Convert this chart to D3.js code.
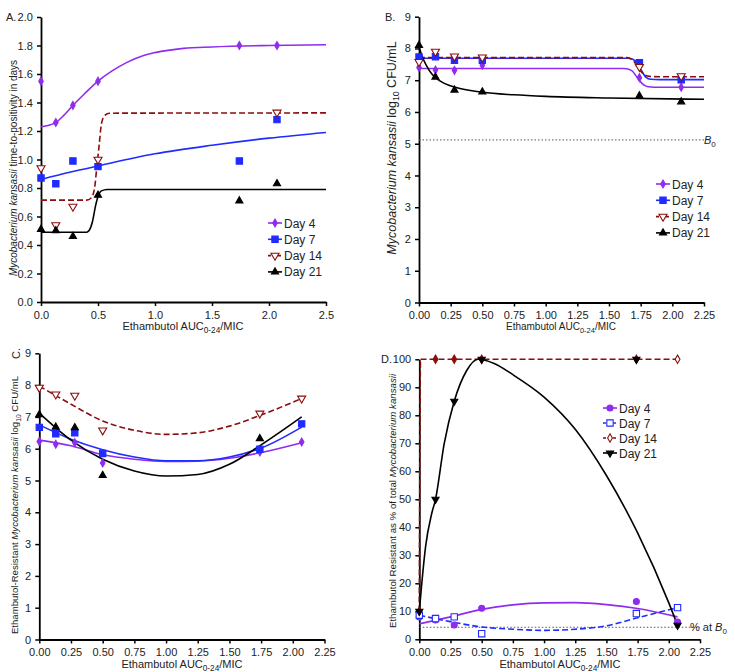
<!DOCTYPE html>
<html lang="en">
<head>
<meta charset="UTF-8">
<title>Ethambutol panels</title>
<script src="https://d3js.org/d3.v7.min.js"></script>
<style>
    body { margin: 0; background: #fff; }
    text { font-family: "Liberation Sans", Arial, sans-serif; fill: #222; }
</style>
</head>
<body>
<script>

// ---- data ----
const days = ['Day 4', 'Day 7', 'Day 14', 'Day 21'];
const xDoses = [0, 0.13, 0.28, 0.5, 1.74, 2.07];

// panel A: time-to-positivity (days)
const ttpDay4 = [1.55, 1.26, 1.38, 1.55, 1.80, 1.80];
const ttpDay7 = [0.87, 0.83, 0.99, 0.95, 0.99, 1.28];
const ttpDay14 = [0.94, 0.54, 0.67, 1.00, null, 1.33];
const ttpDay21 = [0.51, 0.50, 0.46, 0.75, 0.71, 0.83];
const ttpFit4 = [[0,1.23],[0.07,1.24],[0.13,1.26],[0.2,1.31],[0.28,1.38],[0.38,1.46],[0.5,1.55],[0.62,1.62],[0.75,1.68],[0.9,1.73],[1.0,1.75],[1.25,1.78],[1.5,1.79],[2.0,1.80],[2.5,1.805]];
const ttpFit7 = [[0,0.86],[0.25,0.91],[0.5,0.955],[1.0,1.04],[1.5,1.10],[2.0,1.15],[2.5,1.19]];
const ttpFit14 = [[0,0.715],[0.4,0.715],[0.44,0.73],[0.47,0.8],[0.49,0.95],[0.51,1.1],[0.53,1.25],[0.56,1.31],[0.6,1.325],[2.5,1.327]];
const ttpFit21 = [[0,0.49],[0.4,0.49],[0.42,0.50],[0.45,0.56],[0.48,0.68],[0.5,0.74],[0.53,0.78],[0.58,0.79],[2.5,0.79]];

// panel B: total log10 CFU/mL
const cfuDay4 = [7.40, 7.32, 7.31, 7.47, 7.08, 6.78];
const cfuDay7 = [7.73, 7.74, 7.63, 7.63, 7.55, 7.01];
const cfuDay14 = [7.58, 7.90, 7.75, 7.72, 7.42, 7.13];
const cfuDay21 = [8.10, 7.10, 6.69, 6.63, 6.51, 6.32];
const cfuFit4 = [[0,7.37],[1.62,7.37],[1.68,7.3],[1.72,7.1],[1.76,6.9],[1.8,6.8],[1.86,6.78],[2.25,6.78]];
const cfuFit7 = [[0,7.69],[1.66,7.69],[1.71,7.6],[1.75,7.35],[1.79,7.1],[1.83,7.03],[1.9,7.02],[2.25,7.02]];
const cfuFit14 = [[0,7.71],[1.64,7.71],[1.69,7.62],[1.73,7.4],[1.77,7.2],[1.82,7.12],[1.9,7.11],[2.25,7.11]];
const cfuFit21 = [[0,8.05],[0.03,7.7],[0.06,7.45],[0.1,7.2],[0.15,7.02],[0.2,6.9],[0.3,6.76],[0.5,6.62],[0.75,6.54],[1.0,6.49],[1.5,6.44],[2.25,6.40]];
const b0Cfu = 5.12;

// panel C: ethambutol-resistant log10 CFU/mL
const resDay4 = [6.23, 6.14, 6.19, 5.55, 5.90, 6.21];
const resDay7 = [6.67, 6.47, 6.50, 5.85, 5.98, 6.78];
const resDay14 = [7.92, 7.71, 7.67, 6.58, 7.11, 7.58];
const resDay21 = [7.07, 6.68, 6.66, 5.16, 6.32, null];
const resFit4 = [[0,6.27],[0.25,6.09],[0.5,5.81],[0.75,5.67],[1.0,5.60],[1.25,5.61],[1.5,5.70],[1.75,5.88],[2.07,6.19]];
const resFit7 = [[0,6.75],[0.25,6.3],[0.5,5.97],[0.75,5.74],[1.0,5.62],[1.25,5.62],[1.5,5.74],[1.75,6.02],[2.07,6.68]];
const resFit14 = [[0,7.97],[0.25,7.40],[0.5,6.87],[0.75,6.58],[1.0,6.45],[1.25,6.50],[1.5,6.71],[1.75,7.06],[2.07,7.58]];
const resFit21 = [[0,7.12],[0.25,6.27],[0.5,5.67],[0.75,5.30],[1.0,5.14],[1.25,5.19],[1.5,5.51],[1.75,6.12],[2.07,7.0]];

// panel D: resistant as % of total
const pctDay4 = [8.0, 6.9, 5.1, 11.1, 13.5, 6.2];
const pctDay7 = [8.6, 7.4, 8.0, 2.0, 9.2, 11.3];
const pctDay14 = [10, 100, 100, 100, 100, 100];
const pctDay21 = [10, 50, 85, 100, 100, 5];
const pctFit4 = [[0,5.5],[0.25,8.0],[0.5,10.7],[0.75,12.3],[1.0,13.0],[1.25,13.1],[1.5,12.4],[1.75,11.0],[2.07,8.0]];
const pctFit7 = [[0,8.6],[0.25,6.3],[0.5,4.4],[0.75,3.6],[1.0,3.2],[1.25,3.6],[1.5,4.8],[1.75,7.7],[2.07,11.3]];
const pctFit14 = [[0,10],[0.01,100],[2.07,100]];
const pctFit21 = [[0,10],[0.02,20],[0.05,33],[0.1,45],[0.13,50],[0.2,70],[0.28,85],[0.38,96],[0.47,100],[0.6,98.5],[0.75,94.5],[1.0,86.5],[1.25,75],[1.5,58.5],[1.75,38],[2.0,13],[2.07,5]];
const b0Pct = 4.3;

const ticksA_x = [0, 0.5, 1.0, 1.5, 2.0, 2.5];
const ticksA_y = [0, 0.2, 0.4, 0.6, 0.8, 1.0, 1.2, 1.4, 1.6, 1.8, 2.0];
const ticksQ_x = [0, 0.25, 0.5, 0.75, 1.0, 1.25, 1.5, 1.75, 2.0, 2.25];
const ticksLog_y = [0, 1, 2, 3, 4, 5, 6, 7, 8, 9];
const ticksPct_y = [0, 10, 20, 30, 40, 50, 60, 70, 80, 90, 100];

const purple = '#8f2cf0', blue = '#1f2bff', red = '#8b0d0d', black = '#000';

const svg = d3.select('body').append('svg')
    .attr('width', 735).attr('height', 672);

function drawPanel(p) {
    const x = d3.scaleLinear().domain(p.xDomain).range(p.xRange);
    const y = d3.scaleLinear().domain(p.yDomain).range(p.yRange);
    const g = svg.append('g');

    g.append('g')
        .attr('transform', `translate(0,${p.yRange[0]})`)
        .call(d3.axisBottom(x).tickValues(p.xTicks).tickFormat(d3.format(p.xFmt)).tickSize(4).tickSizeOuter(0))
        .call(a => a.selectAll('text').attr('font-size', 11).attr('dy', '0.9em'));
    g.append('g')
        .attr('transform', `translate(${p.xRange[0]},0)`)
        .call(d3.axisLeft(y).tickValues(p.yTicks).tickFormat(d3.format(p.yFmt)).tickSize(4).tickSizeOuter(0))
        .call(a => a.selectAll('text').attr('font-size', 11).attr('dx', '-0.1em'));
    g.selectAll('.domain').attr('stroke-width', 1.8);
    g.selectAll('.tick line').attr('stroke-width', 1.5);

    // reference line
    if (p.refLine != null) {
        g.append('line')
            .attr('x1', x(0)).attr('x2', x(p.xDomain[1]))
            .attr('y1', y(p.refLine)).attr('y2', y(p.refLine))
            .attr('stroke', '#555').attr('stroke-width', 1).attr('stroke-dasharray', '1.5,2');
        const t = g.append('text').attr('x', p.refLabelX).attr('y', y(p.refLine) + 4).attr('font-size', 11);
        if (p.refPrefix) t.append('tspan').text(p.refPrefix);
        t.append('tspan').attr('font-style', 'italic').text('B');
        t.append('tspan').attr('font-size', 8).attr('dy', 3).text('0');
    }

    const line = d3.line().x(d => x(d[0])).y(d => y(d[1])).curve(d3.curveMonotoneX);
    p.series.forEach(s => {
        g.append('path').datum(s.fit)
            .attr('d', line)
            .attr('fill', 'none')
            .attr('stroke', s.color)
            .attr('stroke-width', 1.6)
            .attr('stroke-dasharray', s.dashed ? '6,3' : null);
    });
    p.series.forEach(s => {
        const pts = xDoses.map((d, i) => [d, s.values[i], i]).filter(d => d[1] != null);
        g.selectAll(null).data(pts).enter()
            .append('path')
            .attr('transform', d => `translate(${x(d[0])},${y(d[1])})`)
            .attr('d', d => symbolPath(s))
            .attr('fill', d => (s.open && !(s.openOnly != null && s.openOnly !== d[2])) ? '#fff' : s.color)
            .attr('stroke', s.color)
            .attr('stroke-width', 1.1);
    });

    // legend
    if (p.legend) {
        p.series.forEach((s, i) => {
            const ly = p.legend[1] + i * p.legend[2];
            const lx = p.legend[0];
            g.append('line')
                .attr('x1', lx - 7).attr('x2', lx + 7).attr('y1', ly).attr('y2', ly)
                .attr('stroke', s.color).attr('stroke-width', 1.6)
                .attr('stroke-dasharray', s.dashed ? '3,2' : null);
            g.append('path')
                .attr('transform', `translate(${lx},${ly})`)
                .attr('d', symbolPath(s))
                .attr('fill', s.open && s.openOnly == null ? '#fff' : (s.openOnly != null ? '#fff' : s.color))
                .attr('stroke', s.color).attr('stroke-width', 1.1);
            g.append('text').attr('x', lx + 9).attr('y', ly + 4.5)
                .attr('font-size', 12).text(days[i]);
        });
    }

    // panel letter
    const pl = g.append('text').attr('font-size', 11).text(p.letter);
    if (p.letterRot) pl.attr('transform', `translate(${p.letterPos[0]},${p.letterPos[1]}) rotate(-90)`);
    else pl.attr('x', p.letterPos[0]).attr('y', p.letterPos[1]);

    // x label
    const xl = g.append('text').attr('x', p.xLabelPos[0]).attr('y', p.xLabelPos[1])
        .attr('text-anchor', 'middle').attr('font-size', p.xLabelSize);
    xl.append('tspan').text('Ethambutol AUC');
    xl.append('tspan').attr('font-size', p.xLabelSize * 0.75).attr('dy', 3).text('0-24');
    xl.append('tspan').attr('dy', -3).text('/MIC');

    // y label
    const yl = g.append('text')
        .attr('transform', `translate(${p.yLabelPos[0]},${p.yLabelPos[1]}) rotate(-90)`)
        .attr('text-anchor', 'middle').attr('font-size', p.yLabelSize);
    p.yLabel.forEach(part => {
        const t = yl.append('tspan').text(part.t);
        if (part.i) t.attr('font-style', 'italic');
        if (part.sub) t.attr('font-size', p.yLabelSize * 0.7).attr('dy', 3);
        if (part.up) t.attr('dy', -3);
    });
}

function symbolPath(s) {
    const type = { diamond: d3.symbolDiamond, square: d3.symbolSquare, circle: d3.symbolCircle,
        triUp: d3.symbolTriangle, triDown: d3.symbolTriangle }[s.shape];
    const p = d3.symbol().type(type).size(s.size)();
    if (s.shape === 'triDown') {
        // flip the triangle
        return p.replace(/(-?\d*\.?\d+(?:e-?\d+)?),(-?\d*\.?\d+(?:e-?\d+)?)/g, (m, a, b) => `${a},${-b}`);
    }
    return p;
}

// A
drawPanel({
    letter: 'A.', letterPos: [6, 21],
    xDomain: [0, 2.5], xRange: [41, 326], xTicks: ticksA_x, xFmt: '.1f',
    yDomain: [0, 2], yRange: [302, 17], yTicks: ticksA_y, yFmt: '.1f',
    xLabelPos: [183, 330], xLabelSize: 11,
    yLabelPos: [17, 168], yLabelSize: 10,
    yLabel: [{ t: 'Mycobacterium kansasii', i: true }, { t: ' time-to-positivity in days' }],
    legend: [275, 223, 16.3],
    series: [
        { values: ttpDay4, fit: ttpFit4, color: purple, shape: 'diamond', size: 18 },
        { values: ttpDay7, fit: ttpFit7, color: blue, shape: 'square', size: 40 },
        { values: ttpDay14, fit: ttpFit14, color: red, shape: 'triDown', size: 28, open: true, dashed: true },
        { values: ttpDay21, fit: ttpFit21, color: black, shape: 'triUp', size: 22 }
    ]
});

// B
drawPanel({
    letter: 'B.', letterPos: [385, 21],
    xDomain: [0, 2.25], xRange: [419, 704], xTicks: ticksQ_x, xFmt: '.2f',
    yDomain: [0, 9], yRange: [302.5, 16.7], yTicks: ticksLog_y, yFmt: 'd',
    xLabelPos: [561, 330], xLabelSize: 10,
    yLabelPos: [396, 148], yLabelSize: 12.5,
    yLabel: [{ t: 'Mycobacterium kansasii', i: true }, { t: ' log' }, { t: '10', sub: true }, { t: ' CFU/mL', up: true }],
    legend: [663, 184, 16.3],
    refLine: b0Cfu, refLabelX: 704,
    series: [
        { values: cfuDay4, fit: cfuFit4, color: purple, shape: 'diamond', size: 18 },
        { values: cfuDay7, fit: cfuFit7, color: blue, shape: 'square', size: 40 },
        { values: cfuDay14, fit: cfuFit14, color: red, shape: 'triDown', size: 28, open: true, dashed: true },
        { values: cfuDay21, fit: cfuFit21, color: black, shape: 'triUp', size: 22 }
    ]
});

// C
drawPanel({
    letter: 'C.', letterPos: [20, 359], letterRot: true,
    xDomain: [0, 2.25], xRange: [39.3, 324.5], xTicks: ticksQ_x, xFmt: '.2f',
    yDomain: [0, 9], yRange: [639.5, 353.3], yTicks: ticksLog_y, yFmt: 'd',
    xLabelPos: [182, 668], xLabelSize: 11,
    yLabelPos: [18, 505], yLabelSize: 9.6,
    yLabel: [{ t: 'Ethambutol-Resistant ' }, { t: 'Mycobacterium kansasii', i: true }, { t: ' log' }, { t: '10', sub: true }, { t: ' CFU/mL', up: true }],
    series: [
        { values: resDay4, fit: resFit4, color: purple, shape: 'diamond', size: 18 },
        { values: resDay7, fit: resFit7, color: blue, shape: 'square', size: 40 },
        { values: resDay14, fit: resFit14, color: red, shape: 'triDown', size: 28, open: true, dashed: true },
        { values: resDay21, fit: resFit21, color: black, shape: 'triUp', size: 22 }
    ]
});

// D
drawPanel({
    letter: 'D.', letterPos: [381, 363],
    xDomain: [0, 2.25], xRange: [419.3, 700], xTicks: ticksQ_x, xFmt: '.2f',
    yDomain: [0, 100], yRange: [639.3, 359.3], yTicks: ticksPct_y, yFmt: 'd',
    xLabelPos: [560, 668], xLabelSize: 11,
    yLabelPos: [396, 501], yLabelSize: 9.7,
    yLabel: [{ t: 'Ethambutol Resistant as % of total ' }, { t: 'Mycobacterium kansasii', i: true }],
    legend: [610, 408, 15],
    refLine: b0Pct, refLabelX: 690, refPrefix: '% at ',
    series: [
        { values: pctDay4, fit: pctFit4, color: purple, shape: 'circle', size: 28 },
        { values: pctDay7, fit: pctFit7, color: blue, shape: 'square', size: 40, open: true, dashed: true },
        { values: pctDay14, fit: pctFit14, color: red, shape: 'diamond', size: 20, open: true, openOnly: 5, dashed: true },
        { values: pctDay21, fit: pctFit21, color: black, shape: 'triDown', size: 22 }
    ]
});

</script>
</body>
</html>
